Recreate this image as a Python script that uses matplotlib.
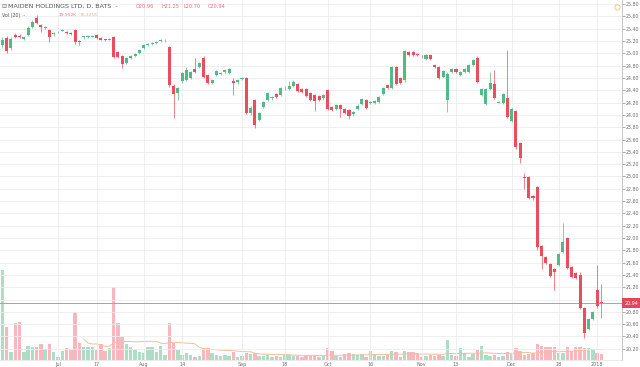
import numpy as np
import pandas as pd
import matplotlib
matplotlib.use("Agg")
import matplotlib.pyplot as plt
import matplotlib.transforms as mtransforms
from matplotlib.ticker import FuncFormatter

# daily bars, MAIDEN HOLDINGS LTD (BATS), 14 Jun 2017 - 3 Jan 2018
holidays = ["2017-07-04", "2017-09-04", "2017-11-23", "2017-12-25", "2018-01-01"]
dates = pd.bdate_range("2017-06-14", "2018-01-03")
dates = dates[~dates.isin(pd.to_datetime(holidays))]

opens = [25.14, 25.25, 25.09, 25.30, 25.29, 25.23, 25.30, 25.43, 25.57, 25.46, 25.41, 25.38, 25.31,
         25.34, 25.37, 25.35, 25.33, 25.38, 25.19, 25.26, 25.26, 25.27, 25.30, 25.25, 25.23, 25.22,
         25.27, 25.02, 24.96, 24.84, 24.93, 24.96, 25.01, 25.09, 25.14, 25.16, 25.17, 25.20, 25.21,
         25.10, 24.47, 24.36, 24.55, 24.57, 24.60, 24.75, 24.78, 24.92, 24.65, 24.52, 24.65, 24.67,
         24.69, 24.68, 24.55, 24.53, 24.58, 24.60, 24.03, 24.24, 23.92, 24.13, 24.24, 24.27, 24.34,
         24.32, 24.43, 24.42, 24.47, 24.50, 24.42, 24.42, 24.36, 24.32, 24.31, 24.27, 24.40, 24.13,
         24.10, 24.16, 24.10, 24.08, 24.01, 24.10, 24.18, 24.24, 24.20, 24.20, 24.21, 24.34, 24.49,
         24.44, 24.78, 24.60, 24.56, 25.02, 25.02, 24.99, 24.96, 24.91, 24.97, 24.81, 24.78, 24.62,
         24.24, 24.70, 24.74, 24.65, 24.70, 24.70, 24.81, 24.93, 24.32, 24.18, 24.42, 24.50, 24.20,
         24.19, 24.28, 23.90, 24.06, 23.54, 22.99, 22.99, 22.68, 22.83, 21.87, 21.69, 21.58, 21.50,
         21.56, 21.77, 22.00, 21.53, 21.43, 21.40, 20.86, 20.52, 20.69, 21.15, 20.96]
highs = [25.27, 25.28, 25.26, 25.33, 25.31, 25.28, 25.45, 25.55, 25.62, 25.48, 25.44, 25.40, 25.35,
         25.37, 25.40, 25.36, 25.34, 25.40, 25.22, 25.29, 25.29, 25.30, 25.31, 25.27, 25.24, 25.25,
         25.28, 25.04, 24.98, 24.94, 24.97, 25.01, 25.07, 25.16, 25.17, 25.19, 25.20, 25.24, 25.24,
         25.12, 24.50, 24.46, 24.70, 24.78, 24.72, 24.93, 24.86, 24.95, 24.67, 24.59, 24.73, 24.70,
         24.75, 24.77, 24.60, 24.59, 24.61, 24.62, 24.14, 24.26, 24.05, 24.23, 24.38, 24.30, 24.36,
         24.46, 24.47, 24.55, 24.56, 24.52, 24.44, 24.44, 24.38, 24.34, 24.33, 24.34, 24.42, 24.15,
         24.18, 24.18, 24.12, 24.10, 24.07, 24.17, 24.28, 24.26, 24.23, 24.24, 24.31, 24.46, 24.51,
         24.80, 24.80, 24.62, 25.06, 25.04, 25.04, 25.01, 24.98, 24.99, 24.99, 24.83, 24.80, 24.73,
         24.69, 24.76, 24.76, 24.72, 24.76, 24.83, 24.91, 24.95, 24.44, 24.44, 24.70, 24.73, 24.23,
         24.36, 25.05, 24.12, 24.08, 23.56, 23.05, 23.01, 22.70, 22.85, 21.89, 21.71, 21.60, 21.52,
         21.76, 22.24, 22.02, 21.55, 21.45, 21.45, 20.88, 20.70, 20.82, 21.56, 21.25]
lows = [25.09, 25.00, 25.06, 25.25, 25.25, 25.21, 25.28, 25.41, 25.47, 25.35, 25.39, 25.19, 25.29,
        25.33, 25.36, 25.32, 25.30, 25.16, 25.13, 25.24, 25.25, 25.26, 25.24, 25.21, 25.20, 25.21,
        24.92, 24.92, 24.76, 24.82, 24.91, 24.94, 24.99, 25.07, 25.12, 25.14, 25.15, 25.18, 25.19,
        24.45, 23.95, 24.24, 24.52, 24.55, 24.58, 24.68, 24.76, 24.60, 24.50, 24.50, 24.63, 24.65,
        24.67, 24.66, 24.32, 24.51, 24.56, 24.01, 24.00, 23.79, 23.90, 24.11, 24.22, 24.25, 24.27,
        24.30, 24.41, 24.40, 24.45, 24.37, 24.35, 24.29, 24.22, 24.07, 24.22, 24.25, 24.08, 24.06,
        24.08, 23.97, 24.01, 23.93, 23.99, 24.08, 24.16, 24.09, 24.18, 24.18, 24.19, 24.32, 24.42,
        24.42, 24.48, 24.50, 24.54, 24.95, 24.96, 24.96, 24.93, 24.89, 24.89, 24.76, 24.58, 24.60,
        24.05, 24.68, 24.68, 24.63, 24.68, 24.68, 24.79, 24.52, 24.30, 24.16, 24.40, 24.26, 24.19,
        24.17, 23.95, 23.88, 23.44, 23.22, 22.80, 22.63, 22.62, 21.80, 21.50, 21.57, 21.36, 21.16,
        21.54, 21.75, 21.49, 21.35, 21.33, 20.84, 20.38, 20.50, 20.67, 20.87, 20.70]
closes = [25.22, 25.04, 25.23, 25.27, 25.27, 25.26, 25.41, 25.51, 25.49, 25.43, 25.42, 25.27, 25.33,
          25.35, 25.38, 25.33, 25.31, 25.18, 25.18, 25.27, 25.28, 25.29, 25.25, 25.22, 25.22, 25.23,
          24.94, 24.94, 24.83, 24.92, 24.95, 24.99, 25.05, 25.14, 25.15, 25.17, 25.18, 25.22, 25.22,
          24.49, 24.34, 24.44, 24.68, 24.73, 24.70, 24.70, 24.84, 24.62, 24.52, 24.57, 24.71, 24.68,
          24.73, 24.75, 24.52, 24.57, 24.59, 24.03, 24.12, 23.84, 24.03, 24.21, 24.36, 24.28, 24.29,
          24.44, 24.44, 24.47, 24.54, 24.39, 24.37, 24.31, 24.24, 24.23, 24.24, 24.32, 24.10, 24.08,
          24.16, 24.10, 24.03, 23.98, 24.05, 24.15, 24.26, 24.11, 24.21, 24.22, 24.29, 24.44, 24.44,
          24.78, 24.50, 24.52, 25.04, 24.97, 24.98, 24.98, 24.95, 24.97, 24.91, 24.78, 24.60, 24.71,
          24.67, 24.74, 24.70, 24.70, 24.74, 24.81, 24.89, 24.54, 24.42, 24.42, 24.52, 24.28, 24.21,
          24.34, 23.97, 24.10, 23.48, 23.30, 22.97, 22.65, 22.65, 21.85, 21.71, 21.59, 21.38, 21.45,
          21.74, 21.93, 21.51, 21.37, 21.35, 20.86, 20.46, 20.68, 20.80, 20.89, 20.94]
# volume in thousands of shares
volumes = [297, 109, 26, 122, 125, 26, 46, 43, 43, 53, 36, 53, 26,
           10, 30, 40, 33, 158, 56, 43, 43, 43, 33, 53, 30, 40,
           241, 122, 76, 53, 43, 33, 26, 23, 43, 43, 26, 46, 17,
           122, 56, 33, 17, 23, 17, 10, 13, 40, 40, 23, 17, 13,
           17, 13, 26, 10, 13, 23, 20, 23, 13, 13, 17, 10, 13,
           10, 17, 17, 13, 13, 10, 13, 13, 17, 10, 13, 40, 30,
           13, 10, 20, 23, 20, 17, 20, 10, 30, 20, 13, 13, 17,
           30, 26, 10, 30, 26, 26, 23, 10, 13, 17, 13, 17, 13,
           66, 17, 13, 40, 23, 10, 20, 33, 46, 17, 13, 17, 10,
           13, 26, 20, 40, 30, 17, 20, 23, 53, 46, 43, 43, 43,
           23, 23, 43, 30, 43, 43, 40, 40, 36, 23, 19.952]
vol_ma_last = 36.125

tick_dates = ["2017-07-03", "2017-07-17", "2017-08-01", "2017-08-14", "2017-09-01", "2017-09-18",
              "2017-10-02", "2017-10-16", "2017-11-01", "2017-11-13", "2017-12-01", "2017-12-18",
              "2018-01-02"]
tick_labels = ["Jul", "17", "Aug", "14", "Sep", "18", "Oct", "16", "Nov", "13", "Dec", "18", "2018"]
price_ticks = np.round(np.arange(20.2, 25.81, 0.2), 2)

up_col, down_col = "#53b987", "#eb4d5c"
vol_up, vol_down = "#acdec6", "#f7b7bd"

fig = plt.figure(figsize=(6.4, 3.67), dpi=100)
ax = fig.add_axes([0, 7 / 367, 622 / 640, 360 / 367])
axv = ax.twinx()

x = np.arange(len(dates))
o = np.array(opens)
h = np.array(highs)
l = np.array(lows)
c = np.array(closes)
rising = c >= o

# volume pane (behind the candles)
axv.bar(x, volumes, 0.8, color=np.where(rising, vol_up, vol_down), linewidth=0)
vol_ma = pd.Series(volumes).rolling(20).mean()
axv.plot(x, vol_ma, color="#f1bf98", lw=0.7)
axv.set_ylim(0, 1188)
axv.axis("off")
ax.set_zorder(axv.get_zorder() + 1)
ax.patch.set_visible(False)

# candles
cols = np.where(rising, up_col, down_col)
ax.vlines(x, l, h, colors=cols, lw=0.5, zorder=3)
ax.bar(x, np.maximum(np.abs(c - o), 0.014), 0.72, bottom=np.minimum(o, c),
       color=cols, linewidth=0, zorder=4)

# last price line and label (it covers the 21.00 tick label, as on the original)
ax.axhline(c[-1], color="#aaa2a2", lw=0.7, zorder=2)
trans = mtransforms.blended_transform_factory(ax.transAxes, ax.transData)
ax.annotate(f"{c[-1]:.2f}", xy=(1.0, c[-1]), xycoords=trans, xytext=(1.6, 0),
            textcoords="offset points", ha="left", va="center", fontsize=3.5,
            color="white", annotation_clip=False, zorder=10,
            bbox=dict(boxstyle="square,pad=0.5", fc="#e0485a", ec="none"))

ax.set_xlim(-0.56, 144.8)
ax.set_ylim(20.017, 25.867)

tick_pos = [dates.get_loc(pd.Timestamp(d)) for d in tick_dates]
ax.set_xticks(tick_pos)
ax.set_xticklabels(tick_labels)
ax.yaxis.tick_right()
ax.set_yticks(price_ticks)
hidden = abs(price_ticks - c[-1]).min()
ax.yaxis.set_major_formatter(FuncFormatter(
    lambda v, pos: "" if abs(v - c[-1]) < 0.1 and abs(v - c[-1]) == hidden else f"{v:.2f}"))
ax.tick_params(axis="y", labelsize=3.4, colors="#6e6e6e", length=2, width=0.4, pad=1.0)
ax.tick_params(axis="x", labelsize=3.5, colors="#6e6e6e", length=0, pad=1.4)
ax.grid(True, color="#ececec", lw=0.6, zorder=0)
ax.set_axisbelow(True)

for side in ["top", "left"]:
    ax.spines[side].set_visible(False)
ax.spines["right"].set_color("#bdbdbd")
ax.spines["right"].set_linewidth(0.6)
ax.spines["bottom"].set_color("#e2e2e2")
ax.spines["bottom"].set_linewidth(0.5)

# info icon in the top right corner
ax.plot([617 / 622], [1 - 7 / 360], transform=ax.transAxes, marker="o", ms=3.8,
        mfc="white", mec="#efc36a", mew=0.6, clip_on=False, zorder=11)

# legend texts
hdr_y = 1 - 6 / 367
fig.text(1 / 640, hdr_y, "⊟", fontsize=4.4, color="#777777", va="center")
fig.text(8 / 640, hdr_y, "MAIDEN HOLDINGS LTD, D, BATS  -", fontsize=4.6, color="#555555",
         va="center")
ohlc = [("O", opens[-1], 136), ("H", highs[-1], 161), ("L", lows[-1], 184), ("C", closes[-1], 208)]
for lab, val, px in ohlc:
    fig.text(px / 640, hdr_y, f"{lab}{val:.2f}", fontsize=3.6, color="#e8707c", va="center")
vol_y = 1 - 15 / 367
fig.text(2 / 640, vol_y, "Vol (20)  -", fontsize=3.4, color="#555555", va="center")
fig.text(59 / 640, vol_y, f"{volumes[-1]:.3f}K", fontsize=3.2, color="#e8707c", va="center")
fig.text(80 / 640, vol_y, f"{vol_ma_last:.3f}K", fontsize=3.2, color="#eeb285", va="center")

fig.savefig("out.png", dpi=100, facecolor="white")
